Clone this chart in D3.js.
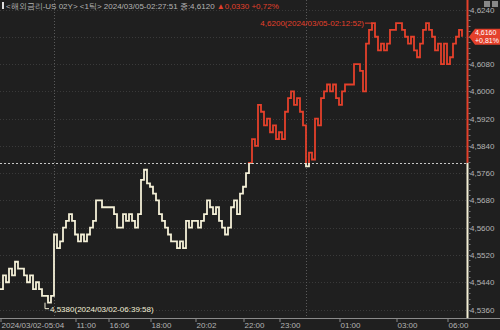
<!DOCTYPE html>
<html>
<head>
<meta charset="utf-8">
<script src="https://cdn.jsdelivr.net/npm/d3@7"></script>
<style>
  body { margin: 0; background: #1f1f1f; }
  svg { display: block; font-family: "Liberation Sans Narrow", "Liberation Sans", Arial, sans-serif; }
</style>
</head>
<body>
<div id="chart"></div>
<script>
// one price per tick (tick chart, x = tick index)
const prices = [
  4.5420, 4.5460, 4.5440, 4.5480, 4.5460, 4.5500, 4.5480, 4.5480, 4.5460, 4.5440,
  4.5460, 4.5420, 4.5440, 4.5420, 4.5400, 4.5400, 4.5380, 4.5400, 4.5580, 4.5540,
  4.5560, 4.5600, 4.5620, 4.5640, 4.5620, 4.5580, 4.5560, 4.5580, 4.5560, 4.5580,
  4.5600, 4.5620, 4.5680, 4.5680, 4.5660, 4.5660, 4.5660, 4.5660, 4.5640, 4.5600,
  4.5600, 4.5640, 4.5620, 4.5640, 4.5620, 4.5600, 4.5640, 4.5740, 4.5770, 4.5730,
  4.5720, 4.5700, 4.5680, 4.5640, 4.5620, 4.5600, 4.5580, 4.5560, 4.5560, 4.5540,
  4.5560, 4.5540, 4.5620, 4.5600, 4.5620, 4.5620, 4.5600, 4.5620, 4.5640, 4.5680,
  4.5660, 4.5640, 4.5660, 4.5620, 4.5600, 4.5580, 4.5600, 4.5660, 4.5680, 4.5640,
  4.5700, 4.5720, 4.5760, 4.5790, 4.5860, 4.5840, 4.5960, 4.5940, 4.5900, 4.5920,
  4.5880, 4.5900, 4.5860, 4.5880, 4.5860, 4.5940, 4.5980, 4.6000, 4.5960, 4.5980,
  4.5940, 4.5900, 4.5780, 4.5820, 4.5800, 4.5920, 4.5900, 4.5980, 4.6000, 4.6020,
  4.6000, 4.6020, 4.5980, 4.5960, 4.6000, 4.6020, 4.6020, 4.6020, 4.6080, 4.6080,
  4.6060, 4.6000, 4.6140, 4.6180, 4.6200, 4.6160, 4.6120, 4.6140, 4.6120, 4.6140,
  4.6180, 4.6180, 4.6200, 4.6200, 4.6180, 4.6160, 4.6140, 4.6160, 4.6120, 4.6100,
  4.6140, 4.6180, 4.6200, 4.6180, 4.6160, 4.6120, 4.6140, 4.6080, 4.6140, 4.6080,
  4.6100, 4.6140, 4.6160, 4.6180, 4.6160
];

const prevClose = 4.5790;
const yTicks = [4.5360, 4.5440, 4.5520, 4.5600, 4.5680, 4.5760, 4.5840, 4.5920, 4.6000, 4.6080, 4.6160, 4.6240];
const xTickIdx = [0, 25, 36, 50, 65, 81, 93, 113, 132, 149];
const xTickLabels = ["2024/03/02-05:04", "11:00", "16:06", "18:00", "20:02", "22:00", "23:00", "01:00", "03:00", "06:00"];
const dayBreaks = [18, 102];
const headerText = "<해외금리-US 02Y> <1틱> 2024/03/05-02:27:51 종:4,6120";
const headerChange = "▲0,0330 +0,72%";
const lastChange = "+0,81%";
const highTime = "2024/03/05-02:12:52";
const lowTime = "2024/03/02-06:39:58";

const W = 500, H = 330;
const bg = "#1f1f1f", cream = "#f3efd6", red = "#e4402b";
const plotRight = 467, axisY = 318;

const fmt = v => d3.format(".4f")(v).replace(".", ",");

const svg = d3.select("#chart").append("svg")
    .attr("width", W)
    .attr("height", H)
    .style("background-color", bg);

const x = d3.scaleLinear().domain([0, prices.length - 1]).range([0, 462]);
const y = d3.scaleLinear().domain([4.5360, 4.6240]).range([309.5, 9.5]);
const baseY = y(prevClose);
const last = prices[prices.length - 1];

// grid
svg.append("g").selectAll("line")
    .data(yTicks)
    .enter().append("line")
    .attr("x1", 0).attr("x2", plotRight)
    .attr("y1", d => Math.round(y(d)) + 0.5).attr("y2", d => Math.round(y(d)) + 0.5)
    .style("stroke", "#3a3a3a")
    .style("stroke-dasharray", "1,2");

svg.append("g").selectAll("line")
    .data(dayBreaks)
    .enter().append("line")
    .attr("x1", d => Math.round(x(d)) + 0.5).attr("x2", d => Math.round(x(d)) + 0.5)
    .attr("y1", 0).attr("y2", axisY)
    .style("stroke", "#5a5a5a")
    .style("stroke-dasharray", "1,2");

// previous close line
svg.append("line")
    .attr("x1", 0).attr("x2", plotRight)
    .attr("y1", Math.round(baseY) + 0.5).attr("y2", Math.round(baseY) + 0.5)
    .style("stroke", "#c8c8c8")
    .style("stroke-dasharray", "2,2");

// clip: above prev close red, below cream
const defs = svg.append("defs");
defs.append("clipPath").attr("id", "above")
    .append("rect").attr("x", 0).attr("y", 0).attr("width", W).attr("height", baseY);
defs.append("clipPath").attr("id", "below")
    .append("rect").attr("x", 0).attr("y", baseY).attr("width", W).attr("height", H - baseY);

const line = d3.line()
    .x((d, i) => x(i))
    .y(d => y(d))
    .curve(d3.curveStepAfter);

svg.append("path")
    .datum(prices)
    .attr("d", line)
    .attr("clip-path", "url(#below)")
    .style("fill", "none")
    .style("stroke", cream)
    .style("stroke-width", 1.8);

svg.append("path")
    .datum(prices)
    .attr("d", line)
    .attr("clip-path", "url(#above)")
    .style("fill", "none")
    .style("stroke", red)
    .style("stroke-width", 1.8);

// high / low labels
const iHigh = d3.maxIndex(prices), iLow = d3.minIndex(prices);
const hx = x(iHigh), hy = y(prices[iHigh]);
svg.append("line")
    .attr("x1", hx - 7).attr("x2", hx).attr("y1", hy).attr("y2", hy)
    .style("stroke", red);
svg.append("text")
    .attr("x", hx - 8).attr("y", hy + 3)
    .attr("text-anchor", "end")
    .style("font-size", "8px")
    .style("fill", red)
    .text(fmt(prices[iHigh]) + "(" + highTime + ")");

const lx = x(iLow) - 3, ly = y(prices[iLow]);
svg.append("path")
    .attr("d", `M${lx},${ly}V${ly + 6}H${lx + 4}`)
    .style("fill", "none")
    .style("stroke", cream);
svg.append("text")
    .attr("x", lx + 5).attr("y", ly + 9)
    .style("font-size", "8px")
    .style("fill", cream)
    .text(fmt(prices[iLow]) + "(" + lowTime + ")");

// right axis
svg.append("line")
    .attr("x1", plotRight + 0.5).attr("x2", plotRight + 0.5)
    .attr("y1", 0).attr("y2", baseY)
    .style("stroke", red).style("stroke-width", 2);
svg.append("line")
    .attr("x1", plotRight + 0.5).attr("x2", plotRight + 0.5)
    .attr("y1", baseY).attr("y2", axisY)
    .style("stroke", cream).style("stroke-width", 2);

const minor = d3.range(4.5360, 4.6250, 0.0016);
svg.append("g").selectAll("line")
    .data(minor)
    .enter().append("line")
    .attr("x1", plotRight + 1.5).attr("x2", plotRight + 3.5)
    .attr("y1", d => Math.round(y(d)) + 0.5).attr("y2", d => Math.round(y(d)) + 0.5)
    .style("stroke", "#777");

// tick labels, skipping the one hidden behind the last-price box
svg.append("g").selectAll("text")
    .data(yTicks.filter(d => Math.abs(y(d) - y(last)) > 10))
    .enter().append("text")
    .attr("x", 470).attr("y", d => y(d) + 3)
    .style("font-size", "8px")
    .style("fill", "#b4b4b4")
    .text(fmt);

// last price box
const by = y(last);
svg.append("path")
    .attr("d", `M${plotRight + 2},${by} L${plotRight + 8},${by - 8} H${W} V${by + 8} H${plotRight + 8} Z`)
    .style("fill", red);
svg.append("text")
    .attr("x", 475).attr("y", by - 1.5)
    .style("font-size", "7px").style("fill", "#fff")
    .text(fmt(last));
svg.append("text")
    .attr("x", 475).attr("y", by + 6.5)
    .style("font-size", "7px").style("fill", "#fff")
    .text(lastChange);

// x axis
const xAxis = d3.axisBottom(x)
    .tickValues(xTickIdx)
    .tickFormat((d, i) => xTickLabels[i])
    .tickSize(4)
    .tickSizeOuter(0);
const gx = svg.append("g")
    .attr("transform", `translate(0,${axisY})`)
    .call(xAxis);
gx.select(".domain").attr("d", `M0,0.5H${W}`).style("stroke", "#8a8a8a");
gx.selectAll(".tick line").style("stroke", "#8a8a8a").attr("transform", "translate(0.5,0)");
gx.selectAll(".tick text")
    .attr("text-anchor", "start")
    .attr("x", 1).attr("y", 4)
    .style("font-size", "8px")
    .style("font-family", "inherit")
    .style("fill", "#b4b4b4");

// header
svg.append("rect").attr("x", 2).attr("y", 2).attr("width", 2).attr("height", 7).style("fill", "#ddd");
const header = svg.append("text")
    .attr("x", 6).attr("y", 9)
    .style("font-size", "8px")
    .style("fill", "#b4b4b4");
header.append("tspan").text(headerText + " ");
header.append("tspan").style("fill", red).text(headerChange);

// window icons
svg.append("rect").attr("x", 484).attr("y", 1).attr("width", 6).attr("height", 6).style("fill", "#888");
svg.append("rect").attr("x", 492).attr("y", 1).attr("width", 6).attr("height", 6).style("fill", "#888");
</script>
</body>
</html>
